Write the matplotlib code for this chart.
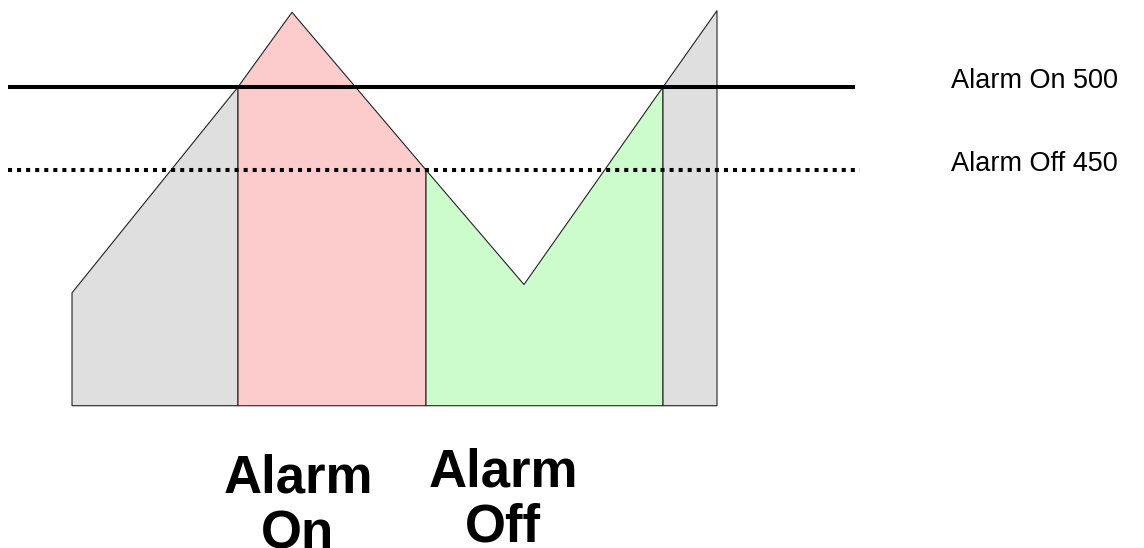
import matplotlib.pyplot as plt
from matplotlib.patches import Polygon

plt.rcParams['font.family'] = ['Liberation Sans', 'DejaVu Sans']

# signal trace (time, value) and thresholds
sig_t = [0, 16.6, 22.0, 35.4, 45.2, 59.1, 64.5]
sig_v = [376, 500, 545, 450, 381, 500, 546]
base = 308
alarm_on = 500
alarm_off = 450

# regions: (start index, end index, colour)
regions = [(0, 1, '#dfdfdf'), (1, 3, '#fccbcb'), (3, 5, '#ccfccc'), (5, 6, '#dfdfdf')]

fig = plt.figure(figsize=(11.44, 5.48), dpi=100)
ax = fig.add_axes([0, 0, 1, 1])
ax.set_xlim(-7.2, 107.2)
ax.set_ylim(222.3, 552.4)
ax.axis('off')

for i0, i1, col in regions:
    pts = [(sig_t[i0], base)] + [(sig_t[i], sig_v[i]) for i in range(i0, i1 + 1)] + [(sig_t[i1], base)]
    ax.add_patch(Polygon(pts, closed=True, facecolor=col, edgecolor='#222222', lw=0.8, zorder=1))

ax.plot([-6.4, 78.3], [alarm_on, alarm_on], color='black', lw=2.9, solid_capstyle='butt', zorder=3)
ax.plot([-6.4, 78.8], [alarm_off, alarm_off], color='black', lw=2.9,
        linestyle=(0, (1, 1.25)), dash_capstyle='butt', zorder=3)

ax.text(87.9, alarm_on + 3.5, 'Alarm On %d' % alarm_on, fontsize=19.5, ha='left', va='center')
ax.text(87.9, alarm_off + 3.5, 'Alarm Off %d' % alarm_off, fontsize=19.5, ha='left', va='center')

ax.text(22.6, 247.2, 'Alarm\nOn', fontsize=38, fontweight='bold', ha='center', va='center', linespacing=1.15)
ax.text(43.1, 251.2, 'Alarm\nOff', fontsize=38, fontweight='bold', ha='center', va='center', linespacing=1.15)

fig.savefig('out.png', dpi=100)
